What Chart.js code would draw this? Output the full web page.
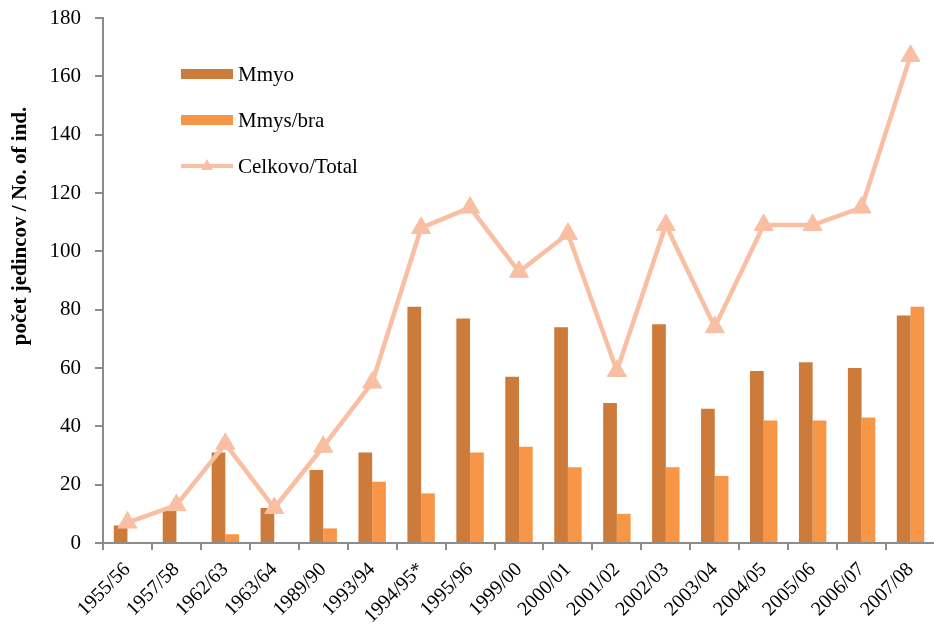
<!DOCTYPE html>
<html>
<head>
<meta charset="utf-8">
<script src="https://cdn.jsdelivr.net/npm/chart.js@4/dist/chart.umd.min.js"></script>
<style>
  html, body { margin: 0; padding: 0; background: #fff; overflow: hidden; }
  #wrap { width: 934px; height: 632px; overflow: hidden; }
</style>
</head>
<body>
<!-- platno je o nieco sirsie, Chart.js si vpravo nechava rezervu pre posledny popis -->
<div id="wrap"><canvas id="graf" width="947" height="632"></canvas></div>
<script>
const seasons = ["1955/56", "1957/58", "1962/63", "1963/64", "1989/90", "1993/94", "1994/95*", "1995/96",
  "1999/00", "2000/01", "2001/02", "2002/03", "2003/04", "2004/05", "2005/06", "2006/07", "2007/08"];
const mmyo = [6, 11, 31, 12, 25, 31, 81, 77, 57, 74, 48, 75, 46, 59, 62, 60, 78];
const mmysBra = [0, 0, 3, 0, 5, 21, 17, 31, 33, 26, 10, 26, 23, 42, 42, 43, 81];
const total = [7, 13, 34, 12, 33, 55, 108, 115, 93, 106, 59, 109, 74, 109, 109, 115, 167];
const yTitle = "počet jedincov / No. of ind.";

const serif = "'Liberation Serif', 'Times New Roman', serif";
const axisGrey = "#8c8c8c";

// legenda vo vnutri grafu, vlavo hore
const insideLegend = {
  id: "insideLegend",
  afterDraw(chart) {
    const ctx = chart.ctx;
    const ds = chart.data.datasets;
    const x0 = 181, w = 52, y0 = 74, step = 46;
    ctx.save();
    ctx.font = "21px " + serif;
    ctx.textBaseline = "middle";
    ds.forEach((d, i) => {
      const y = y0 + i * step;
      if (d.type === "line") {
        ctx.strokeStyle = d.borderColor;
        ctx.lineWidth = 4;
        ctx.beginPath();
        ctx.moveTo(x0, y);
        ctx.lineTo(x0 + w, y);
        ctx.stroke();
        ctx.fillStyle = d.borderColor;
        ctx.beginPath();
        ctx.moveTo(x0 + w / 2, y - 7);
        ctx.lineTo(x0 + w / 2 + 6, y + 4);
        ctx.lineTo(x0 + w / 2 - 6, y + 4);
        ctx.closePath();
        ctx.fill();
      } else {
        ctx.fillStyle = d.backgroundColor;
        ctx.fillRect(x0, y - 5, w, 10);
      }
      ctx.fillStyle = "#000";
      ctx.fillText(d.label, x0 + w + 5, y + 1);
    });
    ctx.restore();
  }
};

// nazov osi y (posunuty vyssie ako stred)
const yAxisTitle = {
  id: "yAxisTitle",
  afterDraw(chart) {
    const ctx = chart.ctx;
    ctx.save();
    ctx.translate(21, 226);
    ctx.rotate(-Math.PI / 2);
    ctx.font = "bold 21px " + serif;
    ctx.fillStyle = "#000";
    ctx.textAlign = "center";
    ctx.textBaseline = "middle";
    ctx.fillText(yTitle, 0, 0);
    ctx.restore();
  }
};

new Chart(document.getElementById("graf"), {
  data: {
    labels: seasons,
    datasets: [
      {
        type: "bar",
        label: "Mmyo",
        data: mmyo,
        backgroundColor: "#CD7B3A",
        barPercentage: 1,
        categoryPercentage: 0.56,
        order: 2
      },
      {
        type: "bar",
        label: "Mmys/bra",
        data: mmysBra,
        backgroundColor: "#F79646",
        barPercentage: 1,
        categoryPercentage: 0.56,
        order: 2
      },
      {
        type: "line",
        label: "Celkovo/Total",
        data: total,
        borderColor: "#F8BFA3",
        backgroundColor: "#F8BFA3",
        borderWidth: 4.5,
        tension: 0,
        pointStyle: "triangle",
        pointRadius: 11,
        pointBackgroundColor: "#F8BFA3",
        pointBorderColor: "#F8BFA3",
        pointBorderWidth: 1,
        order: 1
      }
    ]
  },
  options: {
    responsive: false,
    animation: false,
    layout: { padding: { top: 0, right: 2, left: 0, bottom: 0 } },
    plugins: {
      legend: { display: false },
      tooltip: { enabled: false }
    },
    scales: {
      x: {
        offset: true,
        grid: {
          display: true,
          drawOnChartArea: false,
          drawTicks: true,
          tickLength: 7,
          color: axisGrey,
          lineWidth: 2,
          offset: true
        },
        border: { display: true, color: axisGrey, width: 2 },
        ticks: {
          color: "#000",
          font: { family: serif, size: 20 },
          maxRotation: 45,
          minRotation: 45,
          autoSkip: false,
          padding: 8
        },
        afterFit(axis) {
          axis.height = 89;
          axis.paddingLeft = 0;
          axis.paddingRight = 0;
        }
      },
      y: {
        min: 0,
        max: 180,
        ticks: {
          stepSize: 20,
          color: "#000",
          font: { family: serif, size: 21 },
          padding: 14
        },
        grid: {
          display: true,
          drawOnChartArea: false,
          drawTicks: true,
          tickLength: 8,
          color: axisGrey,
          lineWidth: 2
        },
        border: { display: true, color: axisGrey, width: 2 },
        afterFit(axis) {
          axis.width = 103;
          axis.paddingTop = 18;
          axis.paddingBottom = 0;
        }
      }
    }
  },
  plugins: [insideLegend, yAxisTitle]
});
</script>
</body>
</html>
